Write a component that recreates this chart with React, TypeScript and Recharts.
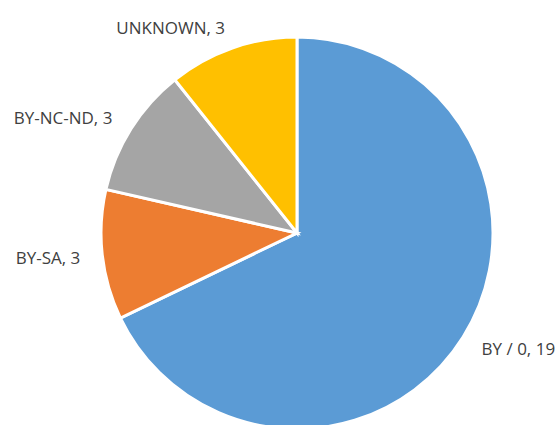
import { Cell, Pie, PieChart } from "recharts";

const licenses = ["BY / 0", "BY-SA", "BY-NC-ND", "UNKNOWN"];
const counts = [19, 3, 3, 3];
const colors = ["#5b9bd5", "#ed7d31", "#a5a5a5", "#ffc000"];

const data = licenses.map((name, i) => ({ name, value: counts[i] }));

const RADIAN = Math.PI / 180;

function renderLabel(props: any) {
  const { cx, cy, midAngle, outerRadius, name, value } = props;
  const r = outerRadius + 22;
  const x = cx + r * Math.cos(-midAngle * RADIAN);
  const y = cy + r * Math.sin(-midAngle * RADIAN);
  const anchor = x > cx ? "start" : "end";
  return (
    <text
      x={x}
      y={y}
      textAnchor={anchor}
      dominantBaseline="central"
      fill="#404040"
      fontSize={17}
      fontFamily="'Open Sans', sans-serif"
    >
      {`${name}, ${value}`}
    </text>
  );
}

export default function App() {
  return (
    <div style={{ position: "absolute", left: 0, top: 0, width: 559, height: 425, background: "#fff" }}>
      <PieChart width={559} height={425} margin={{ top: 0, right: 0, bottom: 0, left: 0 }}>
        <Pie
          data={data}
          dataKey="value"
          nameKey="name"
          cx={297}
          cy={233}
          outerRadius={196}
          startAngle={90}
          endAngle={-270}
          stroke="#ffffff"
          strokeWidth={3}
          label={renderLabel}
          labelLine={false}
          isAnimationActive={false}
        >
          {data.map((entry, index) => (
            <Cell fill={colors[index % colors.length]} key={entry.name} />
          ))}
        </Pie>
      </PieChart>
    </div>
  );
}
